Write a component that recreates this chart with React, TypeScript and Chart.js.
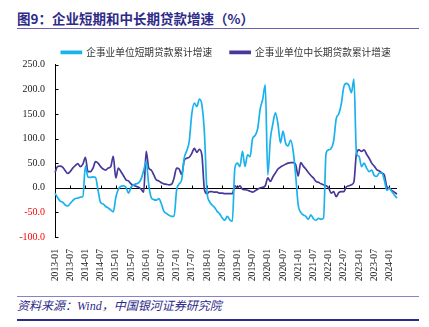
import React, { useEffect, useRef } from "react";
import { Chart, registerables } from "chart.js";

Chart.register(...registerables);

const START_YEAR = 2013;
const MONTH_COUNT = 136; // 2013-01 .. 2024-04

const seriesShortName = "企事业单位短期贷款累计增速";
const seriesLongName = "企事业单位中长期贷款累计增速";

const shortTerm: number[] = [
  -11, -20, -27, -29, -35, -37, -32, -26, -22, -21, -19, -18,
  44, 22, 21, 22, 21, -5, -30, -33, -38, -41, -45, -49,
  -20, -3, 3, 4, 1, -11, 1, 6, 8, 10, 18, 35,
  53, 6, -20, -24, -25, -22, -33, -48, -52, -56, -58, -58,
  -5, 8, 16, 60, 75, 95, 150, 172, 165, 180, 168, 110,
  -8, -28, -35, -40, -48, -53, -61, -66, -58, -65, -68, 40,
  50, 43, 74, 43, 67, 63, 100, 106, 120, 160, 180, 209,
  26, 98, 130, 152, 130, 91, 115, 91, 85, 97, 75, 25,
  -35, -50, -55, -58, -64, -55, -63, -66, -62, -64, -62, 70,
  77, 80, 95, 140, 150, 170, 205, 212, 208, 193, 221, 70,
  64, 43, 50, 40, 33, 36, 25, 23, 30, 30, 16, -5,
  -1, -8, -15, -21,
];

const longTerm: number[] = [
  31, 43, 44, 42, 35, 29, 33, 40, 45, 49, 43, 48,
  62, 33, 33, 40, 53, 50, 43, 38, 36, 40, 43, 64,
  20, 40, 33, 25, 16, 14, 8, 5, 3, 1, -3, -9,
  74, 40, 36, 26, 16, 14, 10, 8, 7, 6, 7, 20,
  40, 38, 27, 55, 60, 62, 70, 80, 72, 78, 66, -4,
  -12, -8, -8, -9, -9, -11, -11, -12, -12, -12, -12, 4,
  0, 4, -3, -4, -5, -7, -9, -6, -3, 0, 1, 4,
  20, 13, 22, 30, 38, 42, 45, 48, 50, 51, 51, 47,
  24, 51, 44, 38, 31, 25, 20, 13, 11, 8, 6, 4,
  0, -11, -8, -18, -10, -8, -8, 2, 4, 6, 12, 70,
  77, 74, 77, 68, 60, 50, 44, 37, 34, 30, 26, 2,
  -1, -6, -9, -13,
];

const yMin = -100;
const yMax = 250;
const yStep = 50;

function makeMonths(startYear: number, count: number): string[] {
  const out: string[] = [];
  for (let k = 0; k < count; k++) {
    const yr = startYear + Math.floor(k / 12);
    const m = (k % 12) + 1;
    out.push(`${yr}-${m < 10 ? "0" + m : m}`);
  }
  return out;
}
const months = makeMonths(START_YEAR, MONTH_COUNT);

const COLOR_SHORT = "#1AB2EC";
const COLOR_LONG = "#45399A";
const NAVY = "#2E2A88";

const zeroAxisPlugin = {
  id: "zeroAxis",
  beforeDatasetsDraw(chart: any) {
    const { ctx, chartArea, scales } = chart;
    const x = scales.x;
    const y = scales.y;
    const y0 = Math.round(y.getPixelForValue(0)) + 0.5;
    ctx.save();
    ctx.strokeStyle = "#000";
    ctx.lineWidth = 1;
    ctx.beginPath();
    ctx.moveTo(chartArea.left, y0);
    ctx.lineTo(chartArea.right, y0);
    for (let i = 0; i < months.length; i += 6) {
      const px = Math.round(x.getPixelForValue(i)) + 0.5;
      ctx.moveTo(px, y0);
      ctx.lineTo(px, y0 - 3);
    }
    const left = Math.round(chartArea.left) + 0.5;
    y.ticks.forEach((t: any) => {
      const py = Math.round(y.getPixelForValue(t.value)) + 0.5;
      ctx.moveTo(left, py);
      ctx.lineTo(left + 3, py);
    });
    ctx.stroke();
    ctx.restore();
  },
};

// center the legend over the plot area (as in the reference) and nudge it down
const legendPlacePlugin = {
  id: "legendPlace",
  afterLayout(chart: any) {
    const lg = chart.legend;
    if (!lg) return;
    const shift =
      (chart.chartArea.left + chart.chartArea.right) / 2 - (lg.left + lg.right) / 2;
    lg.left += shift;
    lg.right += shift;
    lg.top += 2.5;
    lg.bottom += 2.5;
  },
};

function ChartBox() {
  const ref = useRef<HTMLCanvasElement | null>(null);
  useEffect(() => {
    if (!ref.current) return;
    const chart = new Chart(ref.current, {
      type: "line",
      data: {
        labels: months,
        datasets: [
          {
            label: seriesShortName,
            data: shortTerm,
            borderColor: COLOR_SHORT,
            backgroundColor: COLOR_SHORT,
            borderWidth: 1.7,
            pointRadius: 0,
            cubicInterpolationMode: "monotone",
          },
          {
            label: seriesLongName,
            data: longTerm,
            borderColor: COLOR_LONG,
            backgroundColor: COLOR_LONG,
            borderWidth: 1.7,
            pointRadius: 0,
            cubicInterpolationMode: "monotone",
          },
        ],
      },
      options: {
        animation: false,
        responsive: false,
        maintainAspectRatio: false,
        layout: { padding: { left: 0, right: 32, top: 0, bottom: 0 } },
        plugins: {
          legend: {
            display: true,
            position: "top",
            labels: {
              boxWidth: 20,
              boxHeight: 2,
              padding: 18,
              color: "#333",
              font: { size: 9.7, family: "'Noto Sans CJK SC', sans-serif" },
            },
          },
          tooltip: { enabled: false },
        },
        scales: {
          x: {
            type: "category",
            offset: false,
            grid: { display: false },
            border: { display: false },
            ticks: {
              autoSkip: false,
              minRotation: 90,
              maxRotation: 90,
              padding: 4,
              color: "#222",
              font: { size: 9.7, family: "'Liberation Serif', serif" },
              callback: function (this: any, value: any, index: number) {
                return index % 6 === 0 ? months[index] : null;
              },
            },
            afterFit(scale: any) {
              scale.height = 50;
            },
          },
          y: {
            min: yMin,
            max: yMax,
            grid: { display: false, drawTicks: false },
            border: { display: true, color: "#000", width: 1 },
            ticks: {
              stepSize: yStep,
              padding: 10,
              font: { size: 10, family: "'Liberation Serif', serif" },
              color: (c: any) => (c.tick && c.tick.value < 0 ? "#FF0000" : "#222"),
              callback: (v: any) => Number(v).toFixed(1),
            },
            afterFit(scale: any) {
              scale.width = 55;
            },
          },
        },
      },
      plugins: [zeroAxisPlugin, legendPlacePlugin],
    });
    return () => chart.destroy();
  }, []);
  return (
    <canvas
      ref={ref}
      width={429}
      height={260}
      style={{ position: "absolute", left: 0, top: 27, width: 429, height: 260 }}
    />
  );
}

export default function App() {
  return (
    <div
      style={{
        position: "fixed",
        left: 0,
        top: 0,
        width: 429,
        height: 327,
        background: "#fff",
        overflow: "hidden",
      }}
    >
      <div
        style={{
          position: "absolute",
          left: 17,
          top: 10,
          fontFamily: "'Noto Sans CJK SC', sans-serif",
          fontWeight: 700,
          fontSize: 13.5,
          lineHeight: "17px",
          color: NAVY,
          whiteSpace: "nowrap",
        }}
      >
        图9：企业短期和中长期贷款增速（%）
      </div>
      <div
        style={{
          position: "absolute",
          left: 17,
          top: 28,
          width: 402,
          height: 1,
          background: "#6A5FB0",
        }}
      />
      <ChartBox />
      <div
        style={{
          position: "absolute",
          left: 17,
          top: 296,
          width: 402,
          height: 1,
          background: "#8A82C4",
        }}
      />
      <div
        style={{
          position: "absolute",
          left: 17,
          top: 299,
          fontFamily: "'Liberation Serif', 'Noto Sans CJK SC', serif",
          fontStyle: "italic",
          fontSize: 12,
          lineHeight: "15px",
          color: NAVY,
          whiteSpace: "nowrap",
        }}
      >
        资料来源：Wind，中国银河证券研究院
      </div>
      <div
        style={{
          position: "absolute",
          left: 17,
          top: 319,
          width: 402,
          height: 2,
          background: NAVY,
        }}
      />
    </div>
  );
}
